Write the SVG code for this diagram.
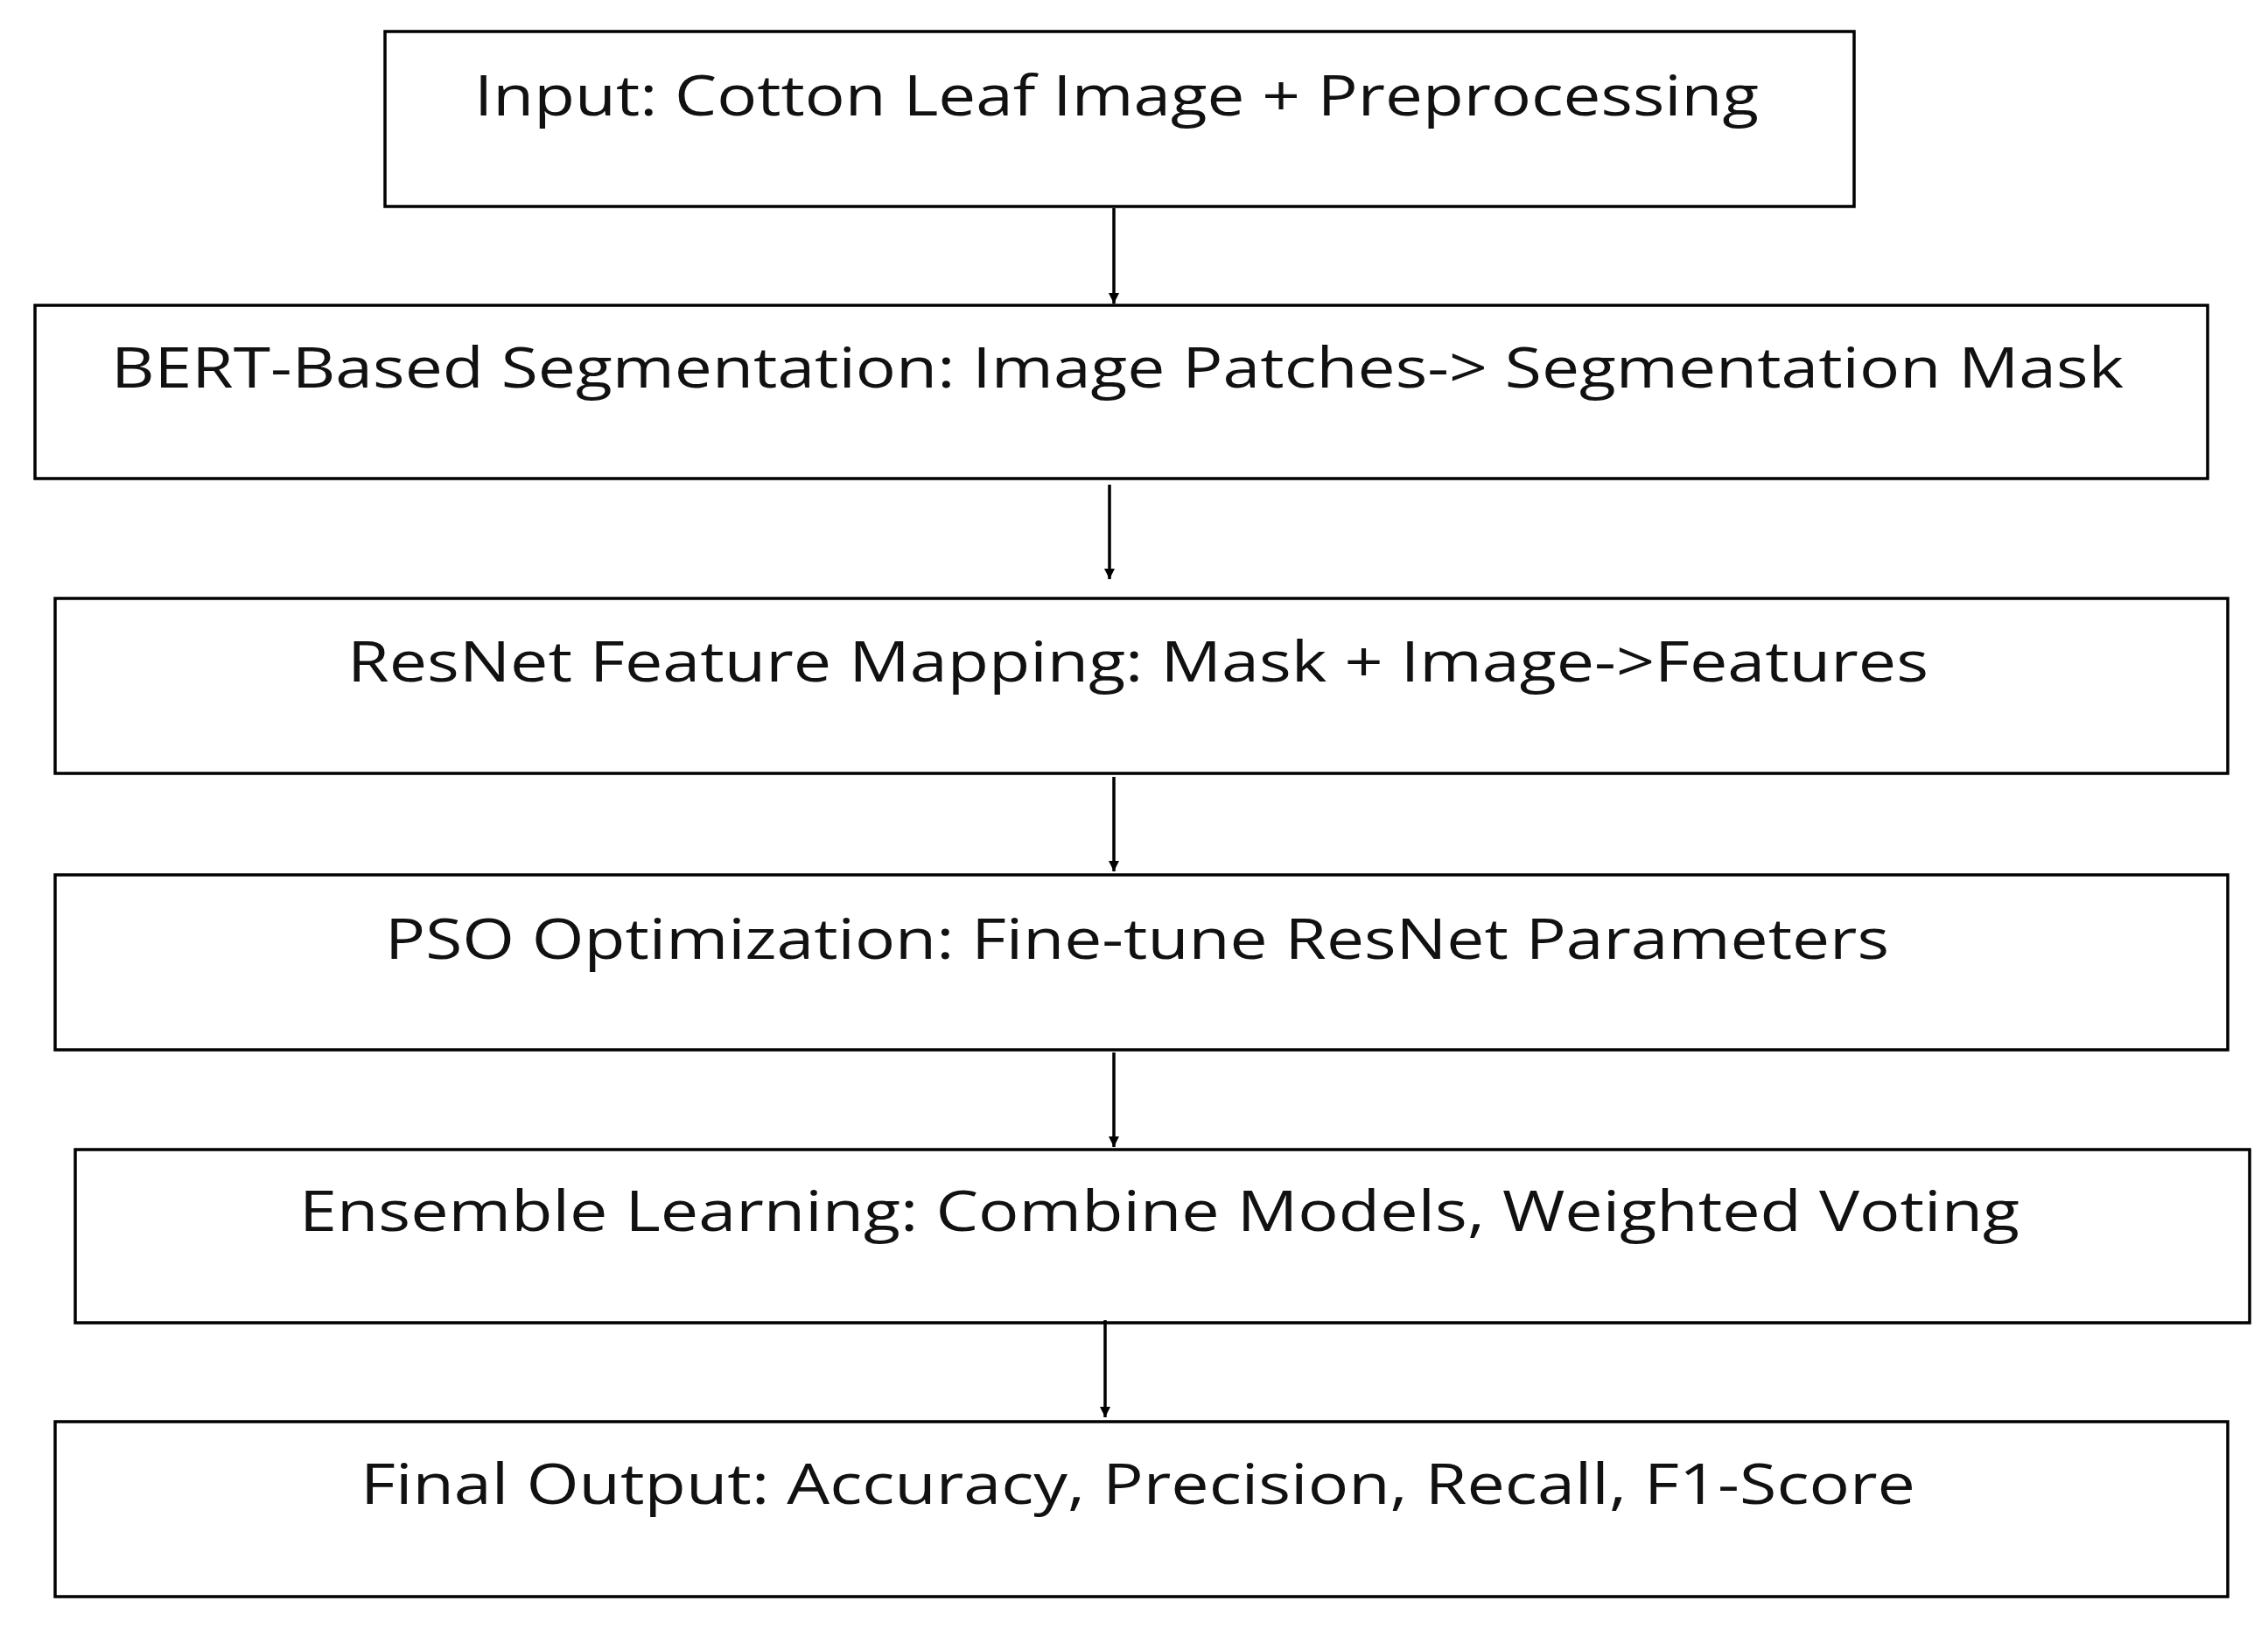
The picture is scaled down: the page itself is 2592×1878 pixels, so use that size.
<svg xmlns="http://www.w3.org/2000/svg" width="2592" height="1878" viewBox="0 0 2592 1878">
<defs>
<style>
.box{fill:#fff;stroke:#000;stroke-width:3.5}
.t{font-family:"Open Sans","Liberation Sans",sans-serif;font-size:64px;fill:#111}
.c{stroke:#000;stroke-width:3.5;fill:none}
</style>
<marker id="ah" viewBox="0 0 10 10" refX="10" refY="5" markerWidth="12" markerHeight="12" markerUnits="userSpaceOnUse" orient="auto"><path d="M0,0L10,5L0,10z" fill="#000"/></marker>
</defs>
<rect width="2592" height="1878" fill="#fff"/>
<g id="n1"><rect class="box" x="440" y="36" width="1679" height="200"/><text class="t" x="542" y="132" textLength="1468" lengthAdjust="spacingAndGlyphs">Input: Cotton Leaf Image + Preprocessing</text></g>
<g id="n2"><rect class="box" x="40" y="349" width="2483" height="198"/><text class="t" x="127" y="443" textLength="2300" lengthAdjust="spacingAndGlyphs">BERT-Based Segmentation: Image Patches-&gt; Segmentation Mask</text></g>
<g id="n3"><rect class="box" x="63" y="684" width="2483" height="200"/><text class="t" x="397" y="779" textLength="1807" lengthAdjust="spacingAndGlyphs">ResNet Feature Mapping: Mask + Image-&gt;Features</text></g>
<g id="n4"><rect class="box" x="63" y="1000" width="2483" height="200"/><text class="t" x="440" y="1096" textLength="1719" lengthAdjust="spacingAndGlyphs">PSO Optimization: Fine-tune ResNet Parameters</text></g>
<g id="n5"><rect class="box" x="86" y="1314" width="2485" height="198"/><text class="t" x="342" y="1407" textLength="1966" lengthAdjust="spacingAndGlyphs">Ensemble Learning: Combine Models, Weighted Voting</text></g>
<g id="n6"><rect class="box" x="63" y="1625" width="2483" height="200"/><text class="t" x="412" y="1719" textLength="1777" lengthAdjust="spacingAndGlyphs">Final Output: Accuracy, Precision, Recall, F1-Score</text></g>
<g id="connectors">
<line class="c" x1="1273" y1="238" x2="1273" y2="347" marker-end="url(#ah)"/>
<line class="c" x1="1268" y1="554" x2="1268" y2="662" marker-end="url(#ah)"/>
<line class="c" x1="1273" y1="888" x2="1273" y2="996" marker-end="url(#ah)"/>
<line class="c" x1="1273" y1="1203" x2="1273" y2="1311" marker-end="url(#ah)"/>
<line class="c" x1="1263" y1="1509" x2="1263" y2="1620" marker-end="url(#ah)"/>
</g>
</svg>
